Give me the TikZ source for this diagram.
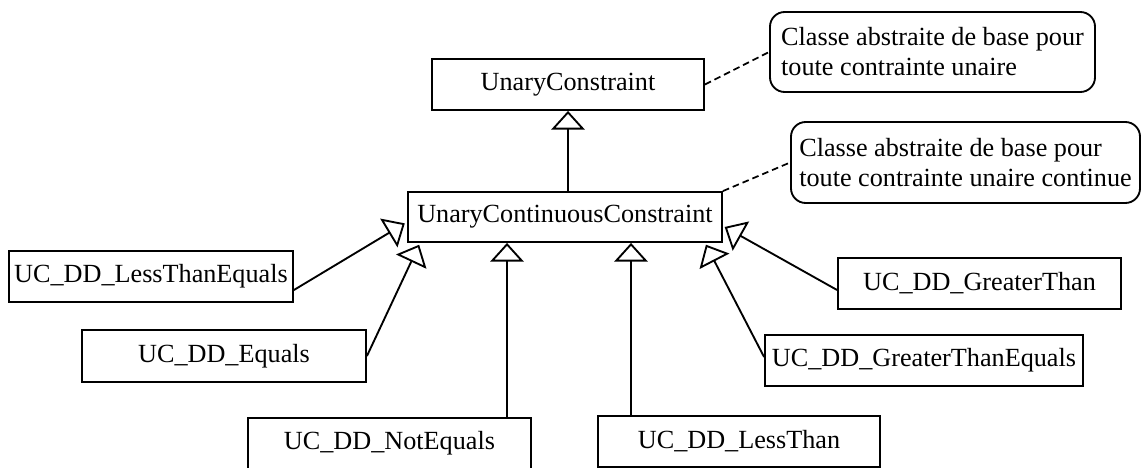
\documentclass[tikz,border=0pt]{standalone}
\usepackage{fontspec}
\setmainfont{Liberation Serif}
\usetikzlibrary{arrows.meta}

\begin{document}
\begin{tikzpicture}[x=0.75pt,y=-0.75pt,line width=1.4pt,
  every node/.style={font=\fontsize{19.65}{22.5}\selectfont},
  cls/.style={draw, rectangle, inner sep=0pt, minimum height=38.25pt},
  note/.style={draw, rounded corners=11pt, align=left, inner sep=0pt, minimum height=60pt},
  isa/.style={-{Triangle[open,width=25pt,length=14pt]}},
  link/.style={dash pattern=on 5pt off 3pt, line width=1.3pt}]
\useasboundingbox (0,0) rectangle (1144,467);
\clip (0,0) rectangle (1144,467);
\node[cls, minimum width=204pt] at (568,84.5) (uc) {UnaryConstraint};
\node[cls, minimum width=235.5pt, minimum height=37.5pt] at (565,217) (ucc) {UnaryContinuousConstraint};
\node[cls, minimum width=213pt] at (151,276.5) (lte) {UC\_DD\_LessThanEquals};
\node[cls, minimum width=213pt, minimum height=39pt] at (224,356) (eq) {UC\_DD\_Equals};
\node[cls, minimum width=212.25pt] at (389.5,443.5) (ne) {UC\_DD\_NotEquals};
\node[cls, minimum width=211.5pt] at (739,441.5) (lt) {UC\_DD\_LessThan};
\node[cls, minimum width=212.25pt] at (979.5,283.5) (gt) {UC\_DD\_GreaterThan};
\node[cls, minimum width=238.5pt] at (924,360.5) (gte) {UC\_DD\_GreaterThanEquals};
\node[note, minimum width=243.75pt] at (932.5,52) (n1) {Classe abstraite de base pour\\toute contrainte unaire};
\node[note, minimum width=261.75pt, minimum height=60.75pt] at (965.5,162.5) (n2) {Classe abstraite de base pour\\toute contrainte unaire continue};
% heritage
\path[isa] (uc.south |- ucc.north) edge (uc.south);
\path[isa] (ne.north -| 507,0) edge (ucc.south -| 507,0);
\path[isa] (lt.north -| 631,0) edge (ucc.south -| 631,0);
\path[isa] (lte.east |- 0,290) edge [shorten >=2pt] (ucc.west |- 0,222);
\path[isa] (eq.east) edge [shorten >=1.5pt] (ucc.south -| 420,0);
\path[isa] (gt.west |- 0,290) edge [shorten >=1.5pt] (ucc.east |- 0,226);
\path[isa] (gte.west |- 0,357) edge [shorten >=1.5pt] (ucc.south -| 705,0);
% notes
\draw[link] (uc.east) -- (n1.west);
\draw[link] (ucc.north east) -- (n2.west);
\end{tikzpicture}
\end{document}
